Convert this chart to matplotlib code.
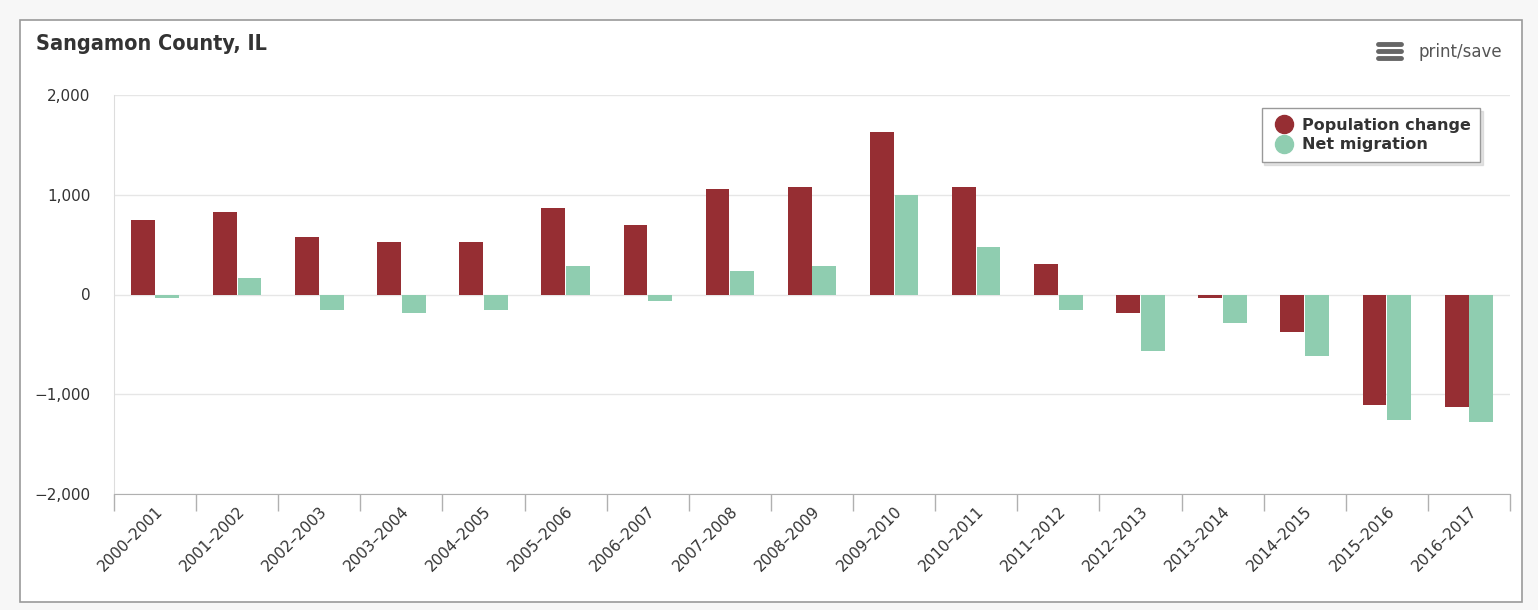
# Sangamon County, IL: population change vs net migration by year
import numpy as np
import matplotlib.pyplot as plt
from matplotlib.patches import Rectangle
from matplotlib.lines import Line2D
from matplotlib.ticker import FuncFormatter

# Data
periods = ["2000–2001", "2001–2002", "2002–2003", "2003–2004", "2004–2005",
           "2005–2006", "2006–2007", "2007–2008", "2008–2009", "2009–2010",
           "2010–2011", "2011–2012", "2012–2013", "2013–2014", "2014–2015",
           "2015–2016", "2016–2017"]
population_change = [750, 830, 580, 530, 530, 870, 700, 1060, 1080, 1630,
                     1080, 310, -190, -40, -380, -1110, -1130]
net_migration = [-40, 170, -160, -190, -155, 285, -70, 240, 290, 1000,
                 480, -160, -570, -290, -620, -1260, -1280]
yticks = [-2000, -1000, 0, 1000, 2000]

red = "#962e33"
green = "#8fcdb0"

fig = plt.figure(figsize=(15.38, 6.10), dpi=100, facecolor="#f7f7f7")

# white chart card with thin gray border
card = Rectangle((20 / 1538, 1 - 602 / 610), 1502 / 1538, 582 / 610,
                 transform=fig.transFigure, facecolor="white",
                 edgecolor="#9a9a9a", linewidth=1.2, zorder=-10)
fig.patches.append(card)

ax = fig.add_axes([114 / 1538, 1 - 494 / 610, 1396 / 1538, 399 / 610])
ax.set_facecolor("none")

x = np.arange(len(periods))
bw = 0.29
ax.bar(x - 0.15, population_change, width=bw, color=red, zorder=3,
       label="Population change")
ax.bar(x + 0.15, net_migration, width=bw, color=green, zorder=3,
       label="Net migration")

ax.set_xlim(-0.5, len(periods) - 0.5)
ax.set_ylim(-2000, 2000)
ax.set_yticks(yticks)
ax.yaxis.set_major_formatter(FuncFormatter(
    lambda v, p: f"{int(v):,}".replace("-", "\u2212")))
ax.grid(axis="y", color="#e6e6e6", linewidth=1, zorder=0)
ax.tick_params(axis="y", length=0, pad=17, labelsize=11, labelcolor="#333333")

# category ticks sit on the boundaries, labels sit at the centres
ax.set_xticks(np.arange(-0.5, len(periods) + 0.5, 1), minor=False)
ax.set_xticklabels([])
ax.set_xticks(x, minor=True)
ax.set_xticklabels(periods, minor=True, rotation=45, ha="right",
                   rotation_mode="anchor", fontsize=11, color="#333333")
ax.tick_params(axis="x", which="major", length=12, color="#b0b0b0", width=1)
ax.tick_params(axis="x", which="minor", length=0, pad=7)

for side in ["top", "right"]:
    ax.spines[side].set_visible(False)
ax.spines["bottom"].set_color("#b0b0b0")
ax.spines["left"].set_color("#dddddd")

# legend with round markers
handles = [Line2D([], [], marker="o", linestyle="", markersize=13, color=red),
           Line2D([], [], marker="o", linestyle="", markersize=13, color=green)]
leg = fig.legend(handles, ["Population change", "Net migration"],
                 loc="upper right", bbox_to_anchor=(1480 / 1538, 1 - 108 / 610),
                 borderaxespad=0, frameon=True, fancybox=False,
                 shadow={"color": "#c8c8c8"},
                 prop={"weight": "bold", "size": 11.5}, handletextpad=0.3,
                 labelspacing=0.3, borderpad=0.6, handlelength=1.6)
leg.get_frame().set_edgecolor("#999999")
leg.get_frame().set_linewidth(1)
for t in leg.get_texts():
    t.set_color("#333333")

# title
fig.text(36 / 1538, 1 - 44 / 610, "Sangamon County, IL", fontsize=15.5,
         fontweight="bold", fontstretch="condensed", family="DejaVu Sans",
         color="#333333", va="center", ha="left")

# print/save menu
fig.text(1502 / 1538, 1 - 52 / 610, "print/save", fontsize=12,
         color="#555555", va="center", ha="right")
for yy in [44, 51, 58]:
    fig.add_artist(Line2D([1378 / 1538, 1401 / 1538], [1 - yy / 610] * 2,
                          color="#666666", linewidth=3.5,
                          solid_capstyle="round"))

fig.savefig("out.png", dpi=100, facecolor=fig.get_facecolor())
